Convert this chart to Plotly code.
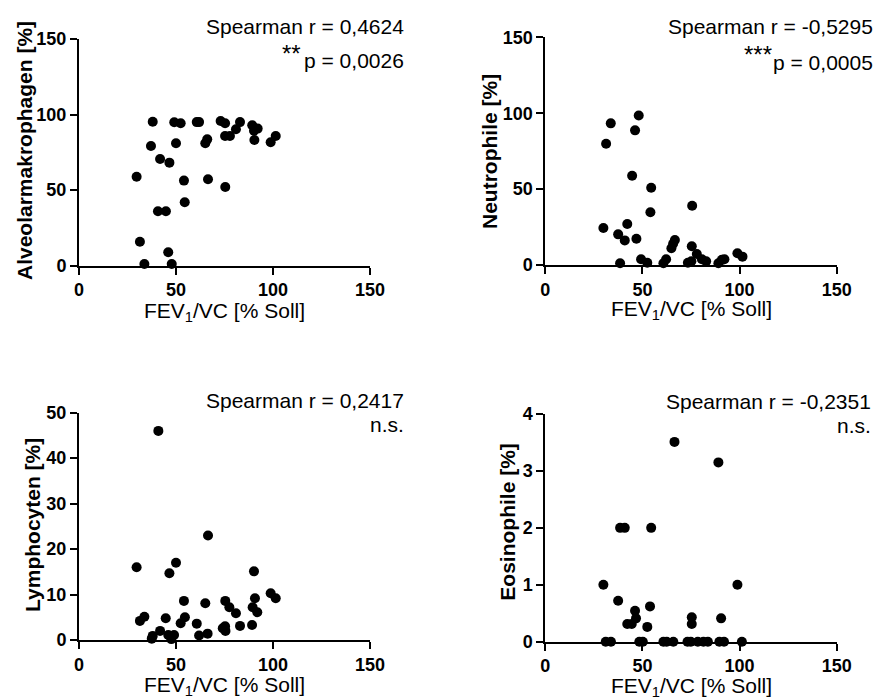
import plotly.graph_objects as go

# ---- data ----
x_am = [29.7, 31.4, 33.7, 37.1, 38.0, 40.7, 41.8, 44.8, 46.0, 46.6, 47.8, 49.1, 50.0, 52.4, 54.1, 54.5, 60.7,
        61.9, 65.1, 66.1, 66.5, 73.0, 75.3, 75.3, 75.4, 77.8, 80.9, 83.0, 89.3, 90.2, 90.4, 92.1, 98.8, 101.4]
y_am = [58.9, 15.9, 1.1, 79.2, 95.3, 36.0, 70.6, 36.0, 8.9, 68.2, 1.1, 94.9, 81.0, 94.2, 56.3, 42.0, 95.0,
        95.0, 81.0, 83.6, 57.2, 95.7, 94.2, 85.8, 52.1, 85.8, 90.3, 95.0, 92.9, 89.3, 83.2, 90.7, 81.7, 85.8]

x_neu = [29.9, 31.3, 33.7, 37.5, 38.5, 40.9, 42.2, 44.7, 46.2, 46.9, 48.1, 49.3, 52.5, 54.1, 54.5, 60.8,
         62.2, 64.9, 65.8, 66.7, 73.4, 75.2, 75.4, 75.6, 78.0, 80.6, 82.8, 89.1, 90.9, 92.2, 98.9, 101.5]
y_neu = [24.4, 79.9, 93.3, 20.2, 1.1, 16.2, 27.0, 58.8, 88.7, 17.3, 98.5, 3.8, 1.5, 34.7, 50.9, 1.1,
         3.8, 11.0, 14.0, 16.5, 1.5, 2.5, 12.3, 39.0, 7.2, 3.8, 2.4, 1.1, 3.4, 3.8, 7.7, 5.5]

x_lym = [29.7, 31.4, 33.7, 37.5, 38.0, 40.9, 41.8, 44.7, 46.0, 46.6, 47.6, 49.0, 50.0, 52.4, 54.1, 54.6, 60.7,
         61.9, 65.1, 66.3, 66.5, 74.1, 75.3, 75.5, 75.4, 77.5, 80.9, 83.0, 89.2, 89.5, 90.2, 90.7, 91.9, 98.8, 101.4]
y_lym = [16.0, 4.2, 5.1, 0.3, 0.9, 46.0, 2.0, 4.8, 1.1, 14.7, 0.2, 1.1, 17.0, 3.7, 8.6, 5.0, 3.6,
         1.0, 8.1, 1.4, 23.0, 2.6, 3.0, 2.0, 8.6, 7.2, 5.9, 3.1, 3.3, 7.2, 15.1, 9.2, 6.1, 10.3, 9.2]

x_eos = [29.9, 31.1, 33.8, 37.5, 38.5, 40.9, 42.2, 44.5, 46.2, 46.7, 48.4, 50.2, 52.5, 53.9, 54.5, 60.8,
         62.5, 65.9, 66.5, 73.2, 74.9, 75.4, 75.4, 78.5, 81.4, 83.7, 89.1, 89.6, 90.5, 92.0, 98.9, 101.2]
y_eos = [1.0, 0, 0, 0.72, 2.0, 2.0, 0.31, 0.31, 0.545, 0.41, 0, 0, 0.26, 0.62, 2.0, 0,
         0, 0, 3.51, 0, 0, 0.43, 0.31, 0, 0, 0, 3.15, 0, 0.41, 0, 1.0, 0]

x_ticks = [0, 50, 100, 150]
y_titles = ["Alveolarmakrophagen [%]", "Neutrophile [%]", "Lymphocyten [%]", "Eosinophile [%]"]
r_texts = ["Spearman r = 0,4624", "Spearman r = -0,5295", "Spearman r = 0,2417", "Spearman r = -0,2351"]
p_texts = ["p = 0,0026", "p = 0,0005", "n.s.", "n.s."]
star_texts = ["**", "***", "", ""]
y_ranges = [[0, 150], [0, 150], [0, 50], [0, 4]]
y_dticks = [50, 50, 10, 1]

W, H = 877, 698
FONT = "Arial, Liberation Sans, sans-serif"

# panel pixel boxes: (left, right, top, bottom)
boxes = [(79, 370, 39, 265.7), (545.3, 836.7, 37.3, 265), (79, 370, 412.7, 640), (545.3, 836.7, 414, 641.7)]

series = [(x_am, y_am), (x_neu, y_neu), (x_lym, y_lym), (x_eos, y_eos)]

fig = go.Figure()
layout = dict(width=W, height=H, margin=dict(l=0, r=0, t=0, b=0, autoexpand=False),
              paper_bgcolor="white", plot_bgcolor="white", showlegend=False,
              font=dict(family=FONT, color="black"))
annotations = []

# annotation pixel positions
r_pos = [(406, 26.5), (875, 26.5), (406, 400), (873, 401.5)]
p_pos = [(406, 60), (875, 62), (406, 424.5), (873, 425)]
star_pos = [(303, 54), (774, 55), None, None]
xt_pos = [(224.5, 311.7), (691, 310), (224.5, 686), (691, 687)]
yt_pos = [(24, 151), (489, 151), (32, 525), (508, 521.7)]


def pa(text, px, py, size, xanchor="right", angle=0):
    return dict(text=text, x=px / W, y=1 - py / H, xref="paper", yref="paper",
                xanchor=xanchor, yanchor="middle", showarrow=False, textangle=angle,
                font=dict(family=FONT, size=size, color="black"))


for i, ((xs, ys), (l, r, t, b)) in enumerate(zip(series, boxes)):
    n = "" if i == 0 else str(i + 1)
    xa, ya = "x" + n, "y" + n
    fig.add_trace(go.Scatter(x=xs, y=ys, mode="markers", xaxis=xa, yaxis=ya,
                             marker=dict(color="black", size=10), cliponaxis=False))
    common = dict(showline=True, linewidth=2, linecolor="black", ticks="outside",
                  ticklen=7, tickwidth=2, tickcolor="black", showgrid=False, zeroline=False,
                  automargin=False, fixedrange=True,
                  tickfont=dict(family=FONT, size=18, color="black", weight="bold"))
    layout["xaxis" + n] = dict(domain=[l / W, r / W], anchor=ya, range=[0, 150], tickvals=x_ticks, **common)
    layout["yaxis" + n] = dict(domain=[1 - b / H, 1 - t / H], anchor=xa, range=y_ranges[i],
                               dtick=y_dticks[i], tick0=0, **common)
    annotations.append(pa(r_texts[i], *r_pos[i], 21))
    annotations.append(pa(p_texts[i], *p_pos[i], 21))
    if star_texts[i]:
        annotations.append(pa(star_texts[i], *star_pos[i], 24))
    annotations.append(pa("FEV<sub>1</sub>/VC [% Soll]", *xt_pos[i], 21, xanchor="center"))
    annotations.append(pa("<b>" + y_titles[i] + "</b>", *yt_pos[i], 21, xanchor="center", angle=-90))

layout["annotations"] = annotations
fig.update_layout(**layout)
fig.write_html("out.html")
